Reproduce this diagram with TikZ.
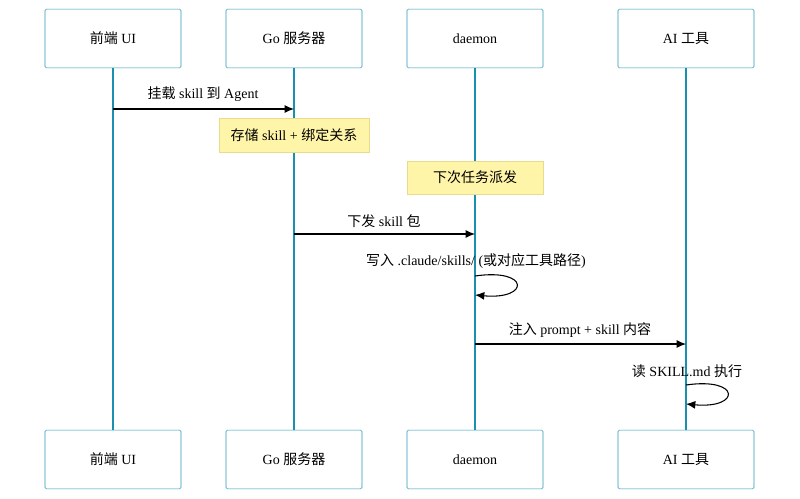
\documentclass[tikz,border=0pt]{standalone}
\usepackage{fontspec}
\setmainfont{Liberation Serif}
\newfontfamily\cjk{Noto Sans CJK SC}
\newcommand{\zh}[1]{{\cjk #1}}
\usetikzlibrary{arrows.meta}
\definecolor{life}{HTML}{1A8FB0}
\definecolor{bx}{HTML}{2A9AB4}
\definecolor{nf}{HTML}{FFF5A8}
\definecolor{nd}{HTML}{E8DC8C}
\begin{document}
\begin{tikzpicture}[x=0.75pt,y=-0.75pt,
  actor/.style={draw=bx,fill=white,minimum width=102pt,minimum height=44pt,inner sep=0pt,rounded corners=1pt,font=\fontsize{10.5}{12}\selectfont},
  note/.style={draw=nd,fill=nf,inner sep=0pt,font=\fontsize{10.5}{12}\selectfont},
  msg/.style={-{Latex[length=7pt,width=6pt]},black,line width=0.8pt},
  lbl/.style={font=\fontsize{10.5}{12}\selectfont,inner sep=0pt},
  life/.style={draw=life,line width=1.2pt}]
\useasboundingbox (0,0) rectangle (800,499);
\foreach \n/\x/\t in {ui/113/\zh{前端} UI, go/294/Go \zh{服务器}, dm/475/daemon, ai/686/AI \zh{工具}}{
  \coordinate (\n t) at (\x,68);
  \coordinate (\n b) at (\x,430);
  \draw[life] (\n t) -- (\n b);
  \node[actor] (\n top) at (\x,38.5) {\t};
  \node[actor] (\n bot) at (\x,459.5) {\t};
}
\node[note,minimum width=112.5pt,minimum height=25.5pt] (n1) at (294,135) {\zh{存储} skill + \zh{绑定关系}};
\node[note,minimum width=102pt,minimum height=25pt] (n2) at (475,177.5) {\zh{下次任务派发}};
\coordinate (a1) at (113,109); \coordinate (a2) at (294,109);
\draw[msg] (a1) -- (a2);
\node[lbl] at (203,94) {\zh{挂载} skill \zh{到} Agent};
\coordinate (b1) at (294,234); \coordinate (b2) at (475,234);
\draw[msg] (b1) -- (b2);
\node[lbl] at (384,221) {\zh{下发} skill \zh{包}};
\coordinate (c1) at (475,276); \coordinate (c2) at (475,295);
\draw[msg] (c1) .. controls (530,268) and (530,300) .. (c2);
\node[lbl] at (476,261) {\zh{写入} .claude/skills/ (\zh{或对应工具路径})};
\coordinate (d1) at (475,344); \coordinate (d2) at (686,344);
\draw[msg] (d1) -- (d2);
\node[lbl] at (580,330) {\zh{注入} prompt + skill \zh{内容}};
\coordinate (e1) at (686,385); \coordinate (e2) at (686,404);
\draw[msg] (e1) .. controls (741,377) and (741,409) .. (e2);
\node[lbl] at (687,371) {\zh{读} SKILL.md \zh{执行}};
\end{tikzpicture}
\end{document}
